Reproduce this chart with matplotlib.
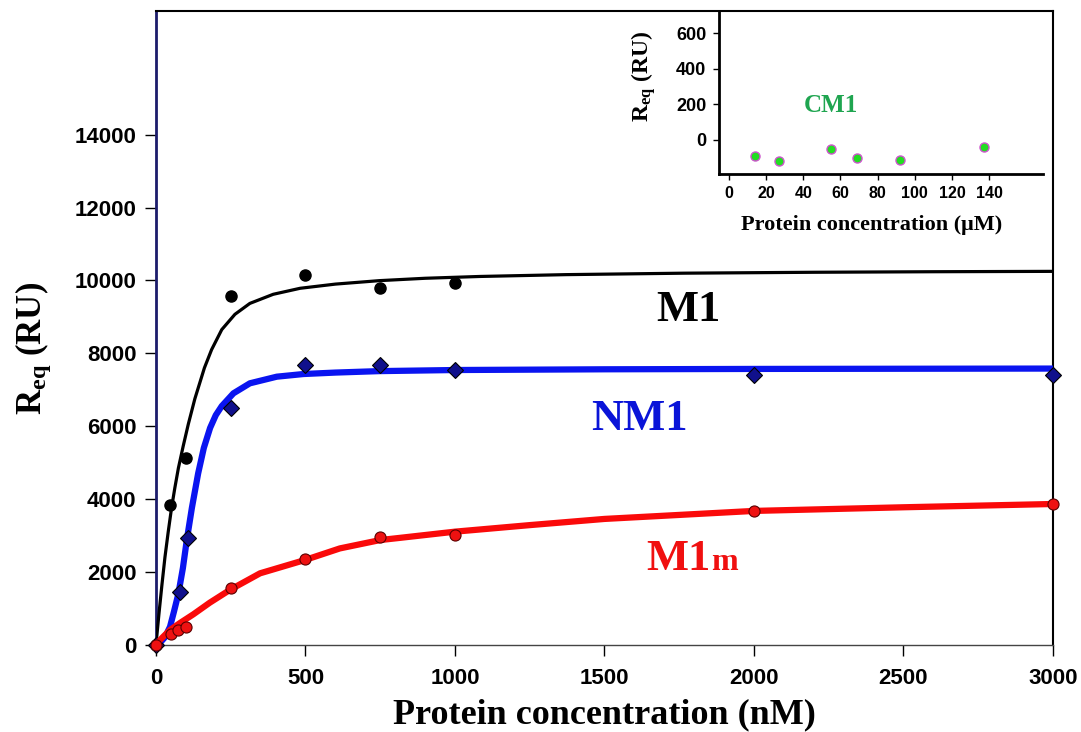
import matplotlib
matplotlib.use("Agg")
import matplotlib.pyplot as plt

plt.rcParams['mathtext.fontset'] = 'custom'
plt.rcParams['mathtext.rm'] = 'Liberation Serif:bold'
plt.rcParams['mathtext.it'] = 'Liberation Serif:bold'
plt.rcParams['mathtext.bf'] = 'Liberation Serif:bold'

# measured points (nM, RU)
m1_x = [0, 47, 102, 250, 500, 750, 1000]
m1_y = [0, 3830, 5115, 9580, 10160, 9800, 9940]
nm1_x = [0, 80, 106, 250, 500, 750, 1000, 2000, 3000]
nm1_y = [0, 1450, 2935, 6490, 7680, 7680, 7540, 7400, 7400]
m1m_x = [0, 50, 75, 100, 250, 500, 750, 1000, 2000, 3000]
m1m_y = [0, 280, 400, 480, 1545, 2340, 2945, 2995, 3680, 3850]

# fitted curves
m1_fit_x = [0, 10, 20, 30, 41, 52, 63, 75, 91, 108, 130, 162, 186, 220, 264, 314,
            392, 482, 600, 747, 900, 1084, 1371, 1766, 2200, 2600, 3000]
m1_fit_y = [0, 850, 1650, 2400, 3100, 3750, 4300, 4850, 5450, 6050, 6750, 7600, 8100,
            8650, 9070, 9370, 9620, 9785, 9900, 9995, 10060, 10110, 10160, 10200, 10225,
            10240, 10250]
nm1_fit_x = [0, 15, 30, 47, 60, 75, 90, 103, 120, 141, 160, 181, 200, 220, 259, 314,
             404, 493, 600, 747, 1000, 1500, 2000, 3000]
nm1_fit_y = [0, 60, 200, 490, 900, 1400, 2100, 2870, 3750, 4700, 5400, 5950, 6300, 6550,
             6900, 7175, 7357, 7430, 7470, 7510, 7540, 7560, 7570, 7580]
m1m_fit_x = [0, 20, 47, 80, 125, 180, 247, 348, 498, 615, 750, 816, 1000, 1250, 1500,
             2000, 2500, 3000]
m1m_fit_y = [0, 180, 400, 590, 830, 1150, 1500, 1956, 2321, 2640, 2870, 2930, 3100, 3280,
             3450, 3670, 3770, 3860]

# inset: CM1 (uM, RU)
cm1_x = [14, 27, 55, 69, 92, 137]
cm1_y = [-90, -118, -51, -101, -115, -39]

xticks = [0, 500, 1000, 1500, 2000, 2500, 3000]
yticks = [0, 2000, 4000, 6000, 8000, 10000, 12000, 14000]
in_xticks = [0, 20, 40, 60, 80, 100, 120, 140]
in_yticks = [0, 200, 400, 600]

serif = 'Liberation Serif'
sans = 'Liberation Sans'

fig = plt.figure(figsize=(10.81, 7.32), dpi=100)
ax = fig.add_axes([0.1443, 0.1195, 0.8298, 0.8654])

ax.plot(m1_fit_x, m1_fit_y, color='black', lw=2.3, zorder=3, solid_joinstyle='round')
ax.plot(m1_x, m1_y, 'o', color='black', ms=8, zorder=4, clip_on=False)
ax.plot(nm1_fit_x, nm1_fit_y, color='#0a14f0', lw=4.5, zorder=3, solid_joinstyle='round')
ax.plot(nm1_x, nm1_y, 'D', color='#10108c', mec='black', mew=0.8, ms=8.5, zorder=4, clip_on=False)
ax.plot(m1m_fit_x, m1m_fit_y, color='#fa0a0a', lw=4.5, zorder=5, solid_joinstyle='round')
ax.plot(m1m_x, m1m_y, 'o', color='#ee1111', mec='#5a0000', mew=0.8, ms=8, zorder=6, clip_on=False)

ax.set_xlim(0, 3000)
ax.set_ylim(0, 17400)
ax.set_xticks(xticks)
ax.set_yticks(yticks)
ax.tick_params(direction='out', length=8, width=1, labelsize=16)
ax.tick_params(axis='x', pad=9)
ax.tick_params(axis='y', pad=6)
for lab in ax.get_xticklabels() + ax.get_yticklabels():
    lab.set_fontfamily(sans)
    lab.set_fontweight('bold')
ax.spines['left'].set_color('#1c1c6b')
ax.spines['left'].set_linewidth(2)
ax.spines['bottom'].set_color('#444444')
ax.spines['bottom'].set_linewidth(1)
ax.spines['top'].set_linewidth(1.5)
ax.spines['right'].set_linewidth(1.5)

ax.set_xlabel('Protein concentration (nM)', fontsize=26, fontfamily=serif, fontweight='bold')
ax.xaxis.set_label_coords(0.5, -0.111)
ax.xaxis.label.set_va('center')
ax.set_ylabel(r'R$_{\mathregular{eq}}$ (RU)', fontsize=25, fontfamily=serif, fontweight='bold')
ax.yaxis.set_label_coords(-0.137, 0.468)
ax.yaxis.label.set_va('center')

ax.text(1780, 9190, 'M1', color='black', fontsize=32, fontfamily=serif,
        fontweight='bold', ha='center', va='center')
ax.text(1615, 6200, 'NM1', color='#0a14d8', fontsize=32, fontfamily=serif,
        fontweight='bold', ha='center', va='center')
ax.text(1855, 2050, 'M1', color='#f01010', fontsize=32, fontfamily=serif,
        fontweight='bold', ha='right', va='baseline')
ax.text(1858, 2050, 'm', color='#f01010', fontsize=23, fontfamily=serif,
        fontweight='bold', ha='left', va='baseline')

# inset
ins = fig.add_axes([0.6651, 0.7623, 0.2997, 0.2213])
ins.patch.set_alpha(0)
ins.plot(cm1_x, cm1_y, 'o', color='#22dd22', mec='#cc55cc', mew=1, ms=6.5)
ins.set_xlim(-5.4, 169)
ins.set_ylim(-191, 718)
ins.set_xticks(in_xticks)
ins.set_yticks(in_yticks)
ins.tick_params(direction='out', length=4, width=1, pad=5)
ins.tick_params(axis='x', labelsize=11.5)
ins.tick_params(axis='y', labelsize=13)
for lab in ins.get_xticklabels() + ins.get_yticklabels():
    lab.set_fontfamily(sans)
    lab.set_fontweight('bold')
ins.spines['top'].set_visible(False)
ins.spines['right'].set_visible(False)
ins.spines['left'].set_linewidth(2)
ins.spines['bottom'].set_linewidth(2)
ins.set_xlabel('Protein concentration (\u03bcM)', fontsize=16, fontfamily=serif, fontweight='bold')
ins.xaxis.set_label_coords(0.472, -0.315)
ins.xaxis.label.set_va('center')
ins.set_ylabel(r'R$_{\mathregular{eq}}$ (RU)', fontsize=17, fontfamily=serif, fontweight='bold')
ins.yaxis.set_label_coords(-0.232, 0.605)
ins.yaxis.label.set_va('center')
ins.text(55, 191, 'CM1', color='#1fa550', fontsize=18, fontfamily=serif,
         fontweight='bold', ha='center', va='center')

fig.savefig('out.png', dpi=100)
